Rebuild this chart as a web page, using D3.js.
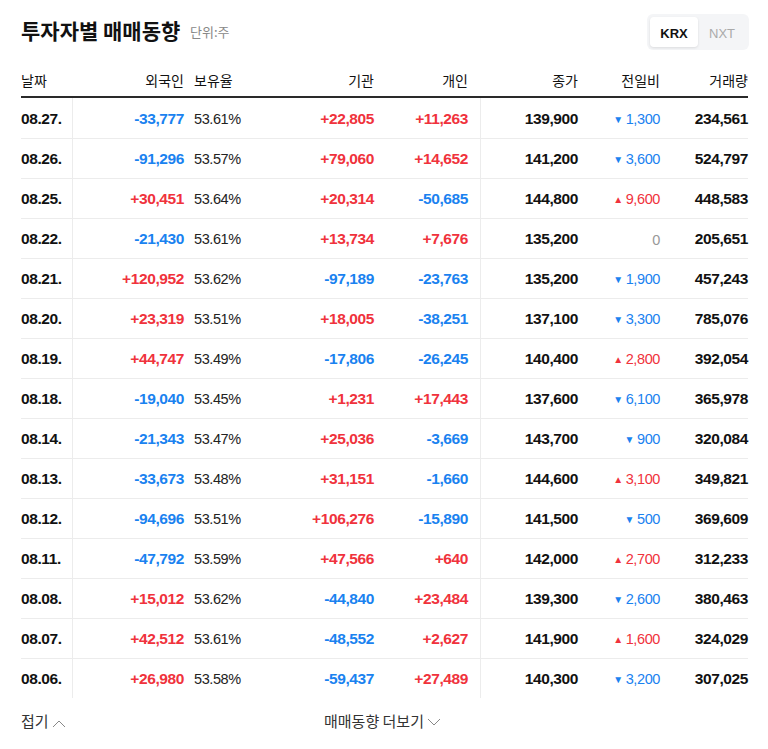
<!DOCTYPE html>
<html><head><meta charset="utf-8">
<script src="https://cdn.jsdelivr.net/npm/d3@7"></script>
<style>
body{margin:0;background:#fff;font-family:"Liberation Sans","Noto Sans CJK KR",sans-serif;}
</style></head><body>
<script>
const dates = ['08.27.','08.26.','08.25.','08.22.','08.21.','08.20.','08.19.','08.18.','08.14.','08.13.','08.12.','08.11.','08.08.','08.07.','08.06.'];
const foreign = [-33777,-91296,30451,-21430,120952,23319,44747,-19040,-21343,-33673,-94696,-47792,15012,42512,26980];
const holding = ['53.61%','53.57%','53.64%','53.61%','53.62%','53.51%','53.49%','53.45%','53.47%','53.48%','53.51%','53.59%','53.62%','53.61%','53.58%'];
const inst = [22805,79060,20314,13734,-97189,18005,-17806,1231,25036,31151,106276,47566,-44840,-48552,-59437];
const indiv = [11263,14652,-50685,7676,-23763,-38251,-26245,17443,-3669,-1660,-15890,640,23484,2627,27489];
const close = [139900,141200,144800,135200,135200,137100,140400,137600,143700,144600,141500,142000,139300,141900,140300];
const change = [-1300,-3600,9600,0,-1900,-3300,2800,-6100,-900,3100,-500,2700,-2600,1600,-3200];
const volume = [234561,524797,448583,205651,457243,785076,392054,365978,320084,349821,369609,312233,380463,324029,307025];
const headers = ['날짜','외국인','보유율','기관','개인','종가','전일비','거래량'];

const W = 768, H = 749;
const RED = '#f0323c', BLUE = '#1a82f0', DARK = '#111';
const fmt = d3.formatLocale({decimal: '.', thousands: ',', grouping: [3], currency: ['', ''], minus: '-'}).format(',');
const signed = v => v > 0 ? '+' + fmt(v) : fmt(v);
const col = v => v > 0 ? RED : v < 0 ? BLUE : '#999';

const svg = d3.select('body').append('svg').attr('width', W).attr('height', H);

const y = d3.scaleBand().domain(dates).range([98, 698]);

svg.append('text').attr('x', 21).attr('y', 39).attr('font-size', 21).attr('font-weight', 'bold')
  .attr('fill', DARK).attr('font-family', 'Noto Sans CJK KR').text('투자자별 매매동향');
svg.append('text').attr('x', 190).attr('y', 37).attr('font-size', 13).attr('fill', '#888')
  .attr('font-family', 'Noto Sans CJK KR').text('단위:주');

// KRX / NXT toggle
svg.append('rect').attr('x', 647).attr('y', 14).attr('width', 102).attr('height', 36).attr('rx', 6).attr('fill', '#f4f5f7');
svg.append('rect').attr('x', 650).attr('y', 17).attr('width', 48).attr('height', 30).attr('rx', 4).attr('fill', '#fff')
  .style('filter', 'drop-shadow(0 1px 1px rgba(0,0,0,0.1))');
svg.append('text').attr('x', 674).attr('y', 38).attr('text-anchor', 'middle').attr('font-size', 13).attr('font-weight', 'bold').attr('fill', DARK).text('KRX');
svg.append('text').attr('x', 722).attr('y', 38).attr('text-anchor', 'middle').attr('font-size', 13).attr('fill', '#aaa').text('NXT');

// header
const hx = [[21,'start'],[184,'end'],[194,'start'],[374,'end'],[468,'end'],[578,'end'],[660,'end'],[748,'end']];
svg.selectAll('.hdr').data(headers).enter().append('text')
  .attr('x', (d, i) => hx[i][0]).attr('y', 86).attr('text-anchor', (d, i) => hx[i][1])
  .attr('font-size', 14).attr('fill', DARK).attr('font-family', 'Noto Sans CJK KR').text(d => d);
svg.append('rect').attr('x', 21).attr('y', 96).attr('width', 727).attr('height', 2).attr('fill', '#2a2a2a');

// row separators and vertical dividers
svg.selectAll('.sep').data(dates.slice(1)).enter().append('line')
  .attr('x1', 21).attr('x2', 748).attr('y1', d => y(d) + 0.5).attr('y2', d => y(d) + 0.5)
  .attr('stroke', '#ececec');
[72.5, 480.5].forEach(x => svg.append('line').attr('x1', x).attr('x2', x).attr('y1', 98).attr('y2', 698).attr('stroke', '#ececec'));

const rows = svg.selectAll('.row').data(dates).enter().append('g')
  .attr('transform', d => `translate(0,${y(d) + y.bandwidth() / 2 + 5.5})`)
  .attr('font-size', 15.5).attr('letter-spacing', '-0.4');

rows.append('text').attr('x', 21).attr('font-weight', 'bold').attr('fill', DARK).text(d => d);
rows.append('text').attr('x', 184).attr('text-anchor', 'end').attr('font-weight', 'bold')
  .attr('fill', (d, i) => col(foreign[i])).text((d, i) => signed(foreign[i]));
rows.append('text').attr('x', 194).attr('font-size', 14.5).attr('fill', '#222').text((d, i) => holding[i]);
rows.append('text').attr('x', 374).attr('text-anchor', 'end').attr('font-weight', 'bold')
  .attr('fill', (d, i) => col(inst[i])).text((d, i) => signed(inst[i]));
rows.append('text').attr('x', 468).attr('text-anchor', 'end').attr('font-weight', 'bold')
  .attr('fill', (d, i) => col(indiv[i])).text((d, i) => signed(indiv[i]));
rows.append('text').attr('x', 578).attr('text-anchor', 'end').attr('font-weight', 'bold').attr('fill', DARK)
  .text((d, i) => fmt(close[i]));
const chg = rows.append('text').attr('x', 660).attr('text-anchor', 'end').attr('font-size', 14.5)
  .attr('fill', (d, i) => col(change[i]));
chg.append('tspan').attr('font-size', 10).attr('dy', -1)
  .text((d, i) => change[i] > 0 ? '▲' : change[i] < 0 ? '▼' : '');
chg.append('tspan').attr('dy', 1).attr('dx', (d, i) => change[i] ? 3 : 0).text((d, i) => fmt(Math.abs(change[i])));
rows.append('text').attr('x', 748).attr('text-anchor', 'end').attr('font-weight', 'bold').attr('fill', DARK)
  .text((d, i) => fmt(volume[i]));

// footer
svg.append('text').attr('x', 21).attr('y', 727).attr('font-size', 15).attr('fill', '#333')
  .attr('font-family', 'Noto Sans CJK KR').text('접기');
svg.append('path').attr('d', 'M53,727 L59,721 L65,727').attr('fill', 'none').attr('stroke', '#888');
svg.append('text').attr('x', 324).attr('y', 727).attr('font-size', 15).attr('fill', '#333')
  .attr('font-family', 'Noto Sans CJK KR').text('매매동향 더보기');
svg.append('path').attr('d', 'M428,719 L434,725 L440,719').attr('fill', 'none').attr('stroke', '#888');
</script>
</body></html>
